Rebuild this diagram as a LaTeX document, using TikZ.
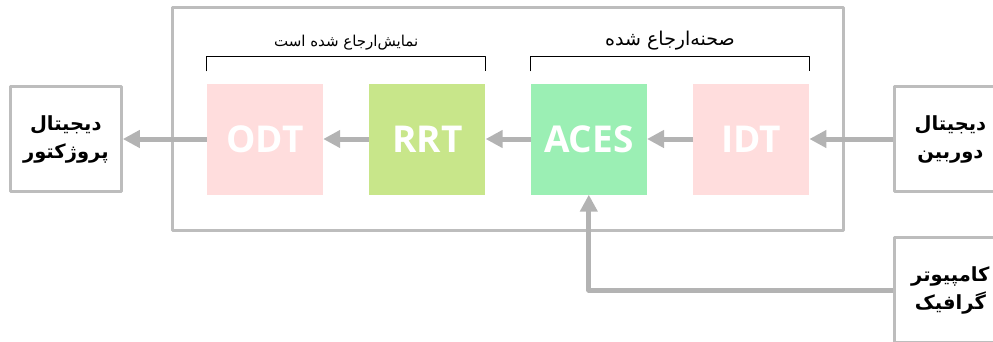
\documentclass[tikz,border=0pt]{standalone}
\usepackage{fontspec}
\setmainfont{Open Sans}
\newfontfamily\farsi[Script=Arabic]{DejaVu Sans}
\TeXXeTstate=1
\usetikzlibrary{positioning,arrows.meta}
\definecolor{linegray}{HTML}{B3B3B3}
\definecolor{framegray}{HTML}{BDBDBD}
\definecolor{transpink}{HTML}{FFDDDD}
\definecolor{rrtgreen}{HTML}{C8E68A}
\definecolor{acesgreen}{HTML}{9BEFB4}

\begin{document}
\begin{tikzpicture}[x=1pt, y=-1pt, line join=round,
		stage/.style={minimum width=116pt, minimum height=111pt, inner sep=0pt, text=white, font=\bfseries\fontsize{37}{40}\selectfont},
		device/.style={draw=framegray, line width=3pt, minimum width=111pt, minimum height=105pt, align=center, font=\farsi\bfseries\fontsize{19.5}{28}\selectfont},
		flow/.style={draw=linegray, line width=5pt, -{Triangle[length=17pt,width=17pt]}},
		bracket/.style={draw=black, line width=1pt},
		tag/.style={inner sep=0pt, above=6pt}]
		\useasboundingbox (0,0) rectangle (993,341);
		\clip (0,0) rectangle (993,341);
		% outer frame
		\draw[framegray, line width=3pt] (172,7) rectangle (843,230);
		% stages
		\node[stage, fill=transpink] (odt) at (265,139) {ODT};
		\node[stage, fill=rrtgreen, right=46pt of odt] (rrt) {RRT};
		\node[stage, fill=acesgreen, right=45pt of rrt] (aces) {ACES};
		\node[stage, fill=transpink, right=46pt of aces] (idt) {IDT};
		% devices
		\node[device, left=84pt of odt] (proj) {\beginR دیجیتال\endR\\\beginR پروژکتور\endR};
		\node[device, right=84pt of idt] (cam) {\beginR دیجیتال\endR\\\beginR دوربین\endR};
		\node[device, below=43pt of cam] (gfx) {\beginR کامپیوتر\endR\\\beginR گرافیک\endR};
		% connectors
		\draw[flow] (cam) -- (idt);
		\draw[flow] (idt) -- (aces);
		\draw[flow] (aces) -- (rrt);
		\draw[flow] (rrt) -- (odt);
		\draw[flow] (odt) -- (proj);
		\draw[flow] (gfx.west) -| (aces.south);
		% brackets
		\draw[bracket] ([yshift=12pt]odt.north west) |- ([yshift=27pt]rrt.north east)
			node[tag, pos=.75, font=\farsi\fontsize{15}{17}\selectfont] {\beginR نمایش‌ارجاع شده است\endR}
			-- ([yshift=12pt]rrt.north east);
		\draw[bracket] ([yshift=12pt]aces.north west) |- ([yshift=27pt]idt.north east)
			node[tag, pos=.75, font=\farsi\fontsize{19}{21}\selectfont] {\beginR صحنه‌ارجاع شده\endR}
			-- ([yshift=12pt]idt.north east);
\end{tikzpicture}
\end{document}
